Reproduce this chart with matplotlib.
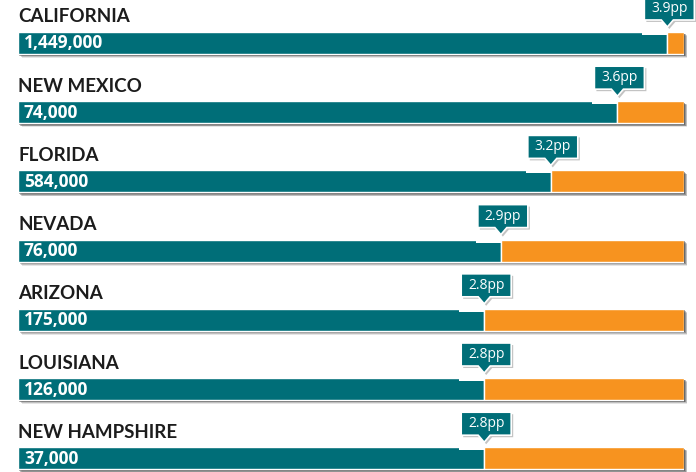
import matplotlib.pyplot as plt
from matplotlib.patches import Rectangle, Polygon

states = ['CALIFORNIA', 'NEW MEXICO', 'FLORIDA', 'NEVADA', 'ARIZONA', 'LOUISIANA', 'NEW HAMPSHIRE']
counts = ['1,449,000', '74,000', '584,000', '76,000', '175,000', '126,000', '37,000']
pp = [3.9, 3.6, 3.2, 2.9, 2.8, 2.8, 2.8]
scale_max = 4.0

teal = '#006E78'
orange = '#F7931F'

fig = plt.figure(figsize=(6.96, 4.72), dpi=100)
ax = fig.add_axes([18 / 696, 0, 666 / 696, 1])
ax.set_xlim(0, scale_max)
ax.set_ylim(6.199, -0.621)
ax.axis('off')

# pixel -> data unit helpers
px = scale_max / 666
py = 1 / 69.2
bar_h = 22 * py

for i, (name, cnt, v) in enumerate(zip(states, counts, pp)):
    top = i - bar_h / 2
    # soft drop shadow, offset down and right
    for k, a in zip([5, 4, 3, 2], [0.12, 0.2, 0.3, 0.4]):
        ax.add_patch(Rectangle((k * px * 0.7, top + k * py * 0.8), scale_max, bar_h,
                               facecolor='#2a2a2a', alpha=a, edgecolor='none',
                               zorder=1, clip_on=False))
    ax.barh(i, v, height=bar_h, left=0, color=teal, edgecolor='white', linewidth=1, zorder=2)
    ax.barh(i, scale_max - v, height=bar_h, left=v, color=orange, edgecolor='white', linewidth=1, zorder=2)
    ax.text(6 * px, i + 0.5 * py, cnt, color='white', fontsize=12.5, fontweight='bold',
            family='Open Sans', va='center', ha='left', zorder=3)
    ax.text(0, i - 26 * py, name, color='#1c1c1c', fontsize=13.5, fontweight='bold',
            family='Lato', va='center', ha='left', zorder=3)

    # callout above the split point
    w, h = 50 * px, 23 * py
    cx = v + 2 * px
    bot = top - 12 * py
    tip = top - 5 * py
    ax.add_patch(Rectangle((v - 25 * px, top - 0.5 * py), 25 * px, 3.5 * py,
                           facecolor='white', edgecolor='none', zorder=2.5))
    pts = [(cx - w / 2, bot - h), (cx + w / 2, bot - h), (cx + w / 2, bot),
           (v + 6 * px, bot), (v, tip), (v - 6 * px, bot), (cx - w / 2, bot)]
    shadow = [(x + 2 * px, y + 2 * py) for x, y in pts]
    ax.add_patch(Polygon(shadow, closed=True, facecolor='#555555', alpha=0.35,
                         edgecolor='none', zorder=3.5, clip_on=False))
    ax.add_patch(Polygon(pts, closed=True, facecolor=teal, edgecolor='white',
                         linewidth=1.2, zorder=4, clip_on=False))
    ax.text(cx, bot - h / 2, f'{v}pp', color='white', fontsize=10,
            family='Open Sans', va='center', ha='center', zorder=5, clip_on=False)

fig.savefig('out.png', dpi=100)
